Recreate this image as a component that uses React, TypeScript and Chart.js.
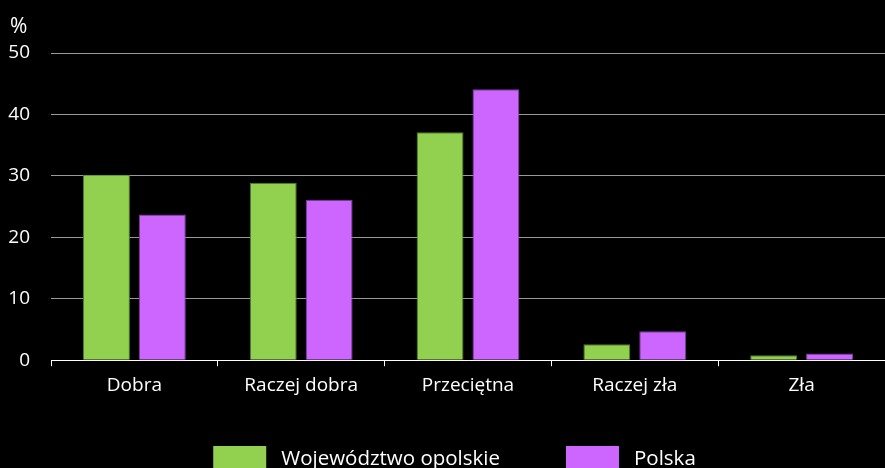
import React, { useEffect, useRef } from "react";
import { Chart, registerables } from "chart.js";

Chart.register(...registerables);

const categories = ["Dobra", "Raczej dobra", "Przeciętna", "Raczej zła", "Zła"];
const opolskie = [30.2, 28.9, 37.1, 2.6, 0.8];
const polska = [23.7, 26.1, 44.1, 4.7, 1.1];
const seriesNames = ["Województwo opolskie", "Polska"];
const seriesColors = ["#92D050", "#CC66FF"];
const seriesBorders = ["#4f7a2a", "#7a3d99"];
const yTicks = [0, 10, 20, 30, 40, 50];

const FONT = "'Open Sans', 'Noto Sans', sans-serif";
const FS = 19;

export default function App() {
  const ref = useRef<HTMLCanvasElement>(null);
  useEffect(() => {
    document.body.style.margin = "0";
    document.body.style.background = "#000";
    document.body.style.overflow = "hidden";
    const pctPlugin = {
      id: "pct",
      afterDraw(chart: any) {
        const ctx = chart.ctx;
        const y = chart.scales.y;
        ctx.save();
        ctx.fillStyle = "#fff";
        ctx.font = `21px ${FONT}`;
        ctx.textAlign = "left";
        ctx.textBaseline = "middle";
        ctx.fillText("%", 10, y.top - 26);
        ctx.restore();
      },
    };
    const legendPlugin = {
      id: "customLegend",
      afterDraw(chart: any) {
        const ctx = chart.ctx;
        ctx.save();
        ctx.font = `20.5px ${FONT}`;
        const boxW = 53;
        const boxH = 26;
        const gap = 15;
        const itemGap = 66;
        const items = chart.data.datasets.map((ds: any) => ({
          text: ds.label,
          color: ds.backgroundColor,
          w: boxW + gap + ctx.measureText(ds.label).width,
        }));
        const total = items.reduce((s: number, it: any) => s + it.w, 0) + itemGap * (items.length - 1);
        let x = chart.width / 2 + 12 - total / 2;
        const top = chart.scales.x.bottom + 41;
        items.forEach((it: any) => {
          ctx.fillStyle = it.color;
          ctx.fillRect(x, top, boxW, boxH);
          ctx.fillStyle = "#fff";
          ctx.textAlign = "left";
          ctx.textBaseline = "middle";
          ctx.fillText(it.text, x + boxW + gap, top + 13);
          x += it.w + itemGap;
        });
        ctx.restore();
      },
    };
    const chart = new Chart(ref.current!, {
      type: "bar",
      data: {
        labels: categories,
        datasets: seriesNames.map((name, i) => ({
          label: name,
          data: i === 0 ? opolskie : polska,
          backgroundColor: seriesColors[i],
          borderColor: seriesBorders[i],
          borderWidth: 1,
        })),
      },
      options: {
        animation: false,
        responsive: false,
        maintainAspectRatio: false,
        datasets: { bar: { categoryPercentage: 0.67, barPercentage: 0.84 } },
        layout: { padding: { left: 0, right: 0, top: 53, bottom: 63 } },
        plugins: {
          legend: { display: false },
          tooltip: { enabled: false },
        },
        scales: {
          x: {
            grid: {
              drawOnChartArea: false,
              drawTicks: true,
              tickLength: 6,
              color: "#fff",
              offset: true,
            },
            border: { display: true, color: "#fff", width: 1 },
            ticks: {
              color: "#fff",
              font: { family: FONT, size: FS },
              padding: 8,
            },
          },
          y: {
            min: 0,
            max: 50,
            afterBuildTicks(scale: any) {
              scale.ticks = yTicks.map((v) => ({ value: v }));
            },
            afterFit(scale: any) {
              scale.width = 51;
            },
            grid: { color: "#999", drawTicks: false, lineWidth: 1 },
            border: { display: false },
            ticks: {
              color: "#fff",
              font: { family: FONT, size: FS },
              padding: 21,
            },
          },
        },
      },
      plugins: [pctPlugin, legendPlugin],
    });
    return () => chart.destroy();
  }, []);
  return <canvas ref={ref} width={885} height={468} style={{ display: "block" }} />;
}
